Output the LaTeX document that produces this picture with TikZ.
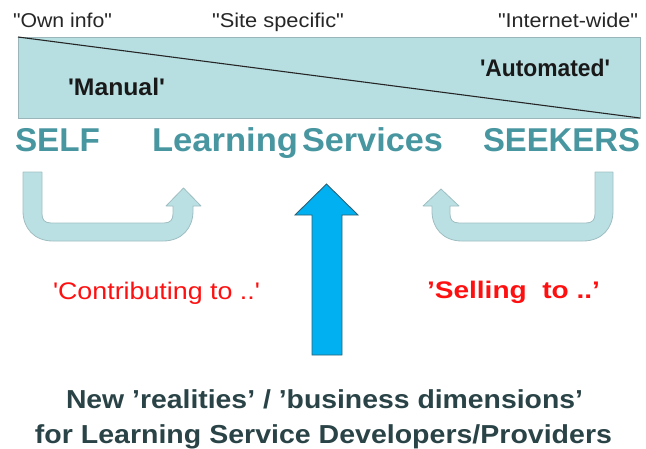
\documentclass[tikz,border=0pt]{standalone}
\usepackage{graphicx}
\usepackage{fontspec}
\setmainfont{Liberation Sans}
\definecolor{boxfill}{HTML}{B7DFE2}
\definecolor{boxline}{HTML}{9AB6BA}
\definecolor{tealtext}{HTML}{4896A0}
\definecolor{ufill}{HTML}{BAE0E3}
\definecolor{uline}{HTML}{9FBEC2}
\definecolor{bluefill}{HTML}{00B0F0}
\definecolor{blueline}{HTML}{2F6275}
\definecolor{darktext}{HTML}{2A4346}
\definecolor{redtext}{HTML}{FF1010}
\newcommand{\fs}[1]{\fontsize{#1}{#1}\selectfont}
\newcommand{\fitw}[2]{\resizebox{#1pt}{\height}{#2}}
\tikzset{
  txt/.style={inner sep=0pt, outer sep=0pt, anchor=base},
  toplabel/.style={txt, text=black!85},
  modelabel/.style={txt, text=black!90, font=\bfseries\fs{24}},
  bigword/.style={txt, text=tealtext, font=\bfseries\fs{33}},
  redlabel/.style={txt, text=redtext},
  bottomline/.style={txt, text=darktext, font=\bfseries\fs{26}},
  uarrow/.style={fill=ufill, draw=uline, line width=0.8pt, line join=round},
  bluearrow/.style={fill=bluefill, draw=blueline, line width=0.9pt, line join=miter}
}
\begin{document}
\begin{tikzpicture}[x=1pt, y=-1pt]
\useasboundingbox (0,0) rectangle (646,448);
% top labels
\node[toplabel, anchor=base west] (own) at (13,27) {\fitw{99}{\fs{20}\textquotedbl Own info\textquotedbl}};
\node[toplabel, anchor=base west] (site) at (212,27) {\fitw{132}{\fs{20}\textquotedbl Site specific\textquotedbl}};
\node[toplabel, anchor=base east] (inet) at (638,27) {\fitw{140}{\fs{20}\textquotedbl Internet-wide\textquotedbl}};
% banner
\node[draw=boxline, fill=boxfill, line width=0.8pt, inner sep=0pt, outer sep=0pt,
      minimum width=622pt, minimum height=81pt, anchor=north west] (band) at (18,37) {};
\draw[black!85, line width=1.1pt] (band.north west) -- (band.south east);
\node[modelabel, anchor=base west] (manual) at (68,95) {\fitw{97}{\textquotesingle Manual\textquotesingle}};
\node[modelabel, anchor=base west] (auto) at (480,76) {\fitw{130}{\textquotesingle Automated\textquotesingle}};
% big words
\node[bigword, anchor=base west] (self) at (15,151) {\fitw{85}{SELF}};
\node[bigword, anchor=base west] (learning) at (152,151) {\fitw{146}{Learning}};
\node[bigword, anchor=base west] (services) at (302,151) {\fitw{141}{Services}};
\node[bigword, anchor=base west] (seekers) at (483,151) {\fitw{157}{SEEKERS}};
% U arrows
\draw[uarrow] (23,172) -- (42,172) -- (42,214) .. controls (42,219.5) and (44.5,223) .. (51,223)
  -- (164,223) .. controls (170.5,223) and (173,219.5) .. (173,214) -- (173,206) -- (166,206)
  -- (183.5,188) -- (201,206) -- (193,206) -- (193,211) .. controls (193,228) and (182,241) .. (163,241)
  -- (53,241) .. controls (34,241) and (23,228) .. (23,211) -- cycle;
\draw[uarrow] (595,172) -- (613,172) -- (613,211) .. controls (613,228) and (602,241) .. (583,241)
  -- (462,241) .. controls (443,241) and (432,228) .. (432,211) -- (432,206) -- (423,206)
  -- (441,189) -- (459,206) -- (450,206) -- (450,214) .. controls (450,219.5) and (452.5,223) .. (459,223)
  -- (586,223) .. controls (592.5,223) and (595,219.5) .. (595,214) -- cycle;
% blue arrow
\draw[bluearrow] (312,355) -- (312,215) -- (295,215) -- (326.5,184) -- (358,215)
  -- (342,215) -- (342,355) -- cycle;
% red labels
\node[redlabel, anchor=base west] (contrib) at (53,299) {\fitw{207}{\fs{24}\textquotesingle Contributing to ..\textquotesingle}};
\node[redlabel, anchor=base west] (selling) at (427,298) {\fitw{173}{\bfseries\fs{24}'Selling\ \ to ..'}};
% bottom text
\node[bottomline] (b1) at (324.5,408) {\fitw{517}{New 'realities' / 'business dimensions'}};
\node[bottomline] (b2) at (323.5,443) {\fitw{577}{for Learning Service Developers/Providers}};
\end{tikzpicture}
\end{document}
